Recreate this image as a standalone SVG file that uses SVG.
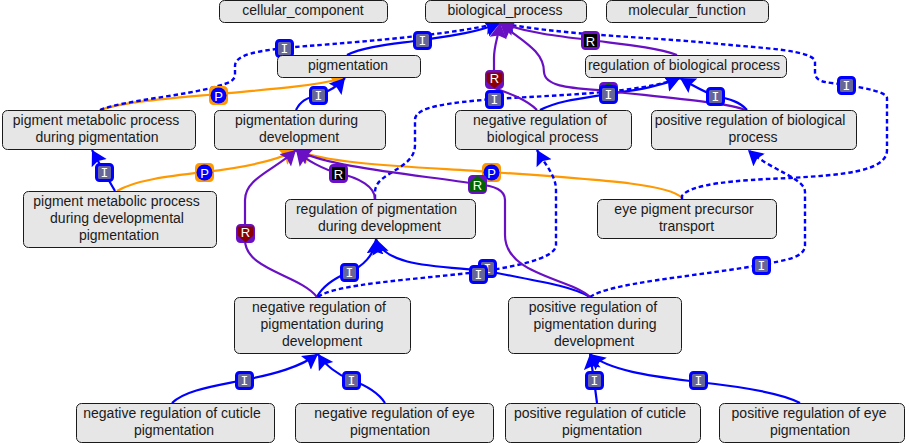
<svg xmlns="http://www.w3.org/2000/svg" width="909" height="443" viewBox="0 0 909 443">
<style>
text{font-family:"Liberation Sans",Arial,sans-serif;font-size:14px;fill:#1a1a1a;text-anchor:middle}
.n rect{fill:#e6e6e6;stroke:#1a1a1a;stroke-width:1}
.e{fill:none;stroke-width:2.2}
.b{stroke:#0000ff}.d{stroke:#0000ff;stroke-dasharray:4.5 3;stroke-width:2.4}.o{stroke:#ff9900}.p{stroke:#6a10c4}
.ab{marker-end:url(#ab)}.ao{marker-end:url(#ao)}.ap{marker-end:url(#ap)}
.bi{fill:#666699;stroke:#0000ff;stroke-width:3}
.bp{fill:#6a10c4;stroke:#6a10c4;stroke-width:3}
.bo{fill:#ff9900;stroke:#ff9900;stroke-width:3}
.l{font-family:"DejaVu Sans Mono","Liberation Mono",monospace;font-size:13px;fill:#fff}
.m{font-size:13px;fill:#fff}
</style>
<defs>
<marker id="ab" markerUnits="userSpaceOnUse" markerWidth="17" markerHeight="18" refX="15" refY="8.500" orient="auto"><path d="M0 0L15 8.500L0 17L2.500 8.500Z" fill="#0000ff"/></marker>
<marker id="ao" markerUnits="userSpaceOnUse" markerWidth="17" markerHeight="18" refX="15" refY="8.500" orient="auto"><path d="M0 0L15 8.500L0 17L2.500 8.500Z" fill="#ff9900"/></marker>
<marker id="ap" markerUnits="userSpaceOnUse" markerWidth="17" markerHeight="18" refX="15" refY="8.500" orient="auto"><path d="M0 0L15 8.500L0 17L2.500 8.500Z" fill="#6a10c4"/></marker>
<g id="I"><rect class="bi" x="-8" y="-8" width="16" height="16" rx="3"/><text class="l" y="4.500">I</text></g>
<g id="P"><rect class="bo" x="-8" y="-8" width="16" height="16" rx="3"/><circle r="8" fill="#0000ff"/><text class="m" y="5">P</text></g>
<g id="Rk"><rect class="bp" x="-8" y="-8" width="16" height="16" rx="3"/><rect x="-6.500" y="-6.500" width="13" height="13" fill="#000"/><text class="m" y="5">R</text></g>
<g id="Rr"><rect class="bp" x="-8" y="-8" width="16" height="16" rx="3"/><path d="M-8 -7H8V2L0 9L-8 2Z" fill="#8b0000"/><text class="m" y="3.500">R</text></g>
<g id="Rg"><rect class="bp" x="-8" y="-8" width="16" height="16" rx="3"/><path d="M0 -9L8 -2V7H-8V-2Z" fill="#006400"/><text class="m" y="5.500">R</text></g>
</defs>
<g id="connectors">
<path class="e o ao" d="M100 110C125 101 185 97 218 94C260 90 310 87 345 78"/>
<path class="e o ao" d="M117 191C135 180 170 176 204 172C240 168 275 162 296 150"/>
<path class="e o ao" d="M682 198C670 185 620 181 491 172C420 167 330 165 296 150"/>
<path class="e b ab" d="M347 55C365 46 395 44 422 40C450 36 475 33 500 23"/>
<path class="e d ab" d="M100 110C125 100 185 96 218 86C228 83 233 82 235 76V66C235 54 260 51 284 48C340 43 440 37 500 23"/>
<path class="e b ab" d="M296 110C302 98 310 98 318 95C328 92 338 86 345 78"/>
<path class="e b ab" d="M115 191L104 172L92 150"/>
<path class="e d ab" d="M375 199V192C375 172 415 170 415 145V120C415 106 450 103 493 99C560 95 640 93 680 78"/>
<path class="e b ab" d="M540 110C560 100 585 98 608 94C635 90 655 88 680 78"/>
<path class="e b ab" d="M747 110C740 102 730 99 715 96C705 92 695 87 680 78"/>
<path class="e d ab" d="M682 199V196C690 184 735 180 790 178C840 175 887 172 887 150V98C887 92 865 88 846 85C830 82 815 84 815 72V62C815 50 760 48 720 44C640 36 570 36 500 23"/>
<path class="e d ab" d="M318 297C335 284 410 280 478 272C505 268 556 260 556 245V190C556 175 545 165 537 150"/>
<path class="e b ab" d="M317 297C323 285 335 278 349 272C362 267 375 255 376 239"/>
<path class="e b ab" d="M590 297C570 285 530 280 487 271C445 266 385 268 376 239"/>
<path class="e d ab" d="M590 297C610 283 690 277 761 265C785 260 805 258 805 245V192C805 178 770 170 748 150"/>
<path class="e b ab" d="M172 403C185 390 215 386 244 380C275 374 300 367 318 354"/>
<path class="e b ab" d="M385 403C378 392 365 385 351 380C338 375 325 365 318 354"/>
<path class="e b ab" d="M597 403L594 380L590 354"/>
<path class="e b ab" d="M800 403C780 392 735 386 698 382C660 377 610 372 590 354"/>
<path class="e p ap" d="M317 297C300 275 245 270 245 240V200C245 178 275 170 296 150"/>
<path class="e p ap" d="M375 199C375 187 360 178 338 173C325 170 305 160 296 150"/>
<path class="e p ap" d="M590 297C570 278 505 275 505 235V200C505 190 495 186 477 184C420 175 330 168 296 150"/>
<path class="e p ap" d="M677 55C655 47 620 44 590 40C555 36 530 33 500 23"/>
<path class="e p ap" d="M537 110C525 98 505 92 494 88V79V58C494 45 498 38 500 23"/>
<path class="e p ap" d="M745 110C730 103 660 97 608 91C575 88 545 88 544 72C544 50 520 40 500 23"/>
</g>
<g id="edge-labels" transform="translate(0.5 0.5)">
<use href="#I" x="284" y="48"/><use href="#I" x="422" y="40"/><use href="#I" x="318" y="95"/><use href="#I" x="104" y="172"/>
<use href="#P" x="218" y="95"/><use href="#P" x="204" y="172"/><use href="#P" x="491" y="172"/>
<use href="#Rk" x="590" y="40"/><use href="#Rk" x="338" y="173"/>
<use href="#Rr" x="494" y="79"/><use href="#Rr" x="245" y="233"/>
<use href="#I" x="494" y="99"/>
<use href="#Rg" x="608" y="91"/><use href="#I" x="608" y="94"/><use href="#I" x="715" y="96"/>
<use href="#I" x="846" y="85"/><use href="#Rg" x="477" y="184"/>
<use href="#I" x="349" y="272"/><use href="#I" x="487" y="268"/><use href="#I" x="478" y="274"/><use href="#I" x="761" y="265"/>
<use href="#I" x="244" y="380"/><use href="#I" x="351" y="380"/><use href="#I" x="594" y="380"/><use href="#I" x="698" y="380"/>
</g>
<g id="cellular_component" class="n"><rect x="219.500" y="0.500" width="168" height="22" rx="5"/><text x="303" y="15">cellular_component</text></g>
<g id="biological_process" class="n"><rect x="425.500" y="0.500" width="161" height="22" rx="5"/><text x="505" y="15">biological_process</text></g>
<g id="molecular_function" class="n"><rect x="606.500" y="0.500" width="162" height="22" rx="5"/><text x="687" y="15">molecular_function</text></g>
<g id="pigmentation" class="n"><rect x="277.500" y="55.500" width="143" height="22" rx="5"/><text x="348" y="70">pigmentation</text></g>
<g id="regulation_of_biological_process" class="n"><rect x="585.500" y="55.500" width="201" height="22" rx="5"/><text x="684" y="70">regulation of biological process</text></g>
<g id="pigment_metabolic_process_during_pigmentation" class="n"><rect x="2.500" y="110.500" width="193" height="39" rx="5"/><text x="96" y="125">pigment metabolic process</text><text x="97" y="142">during pigmentation</text></g>
<g id="pigmentation_during_development" class="n"><rect x="214.500" y="110.500" width="171" height="39" rx="5"/><text x="296.500" y="125">pigmentation during</text><text x="299" y="142">development</text></g>
<g id="negative_regulation_of_biological_process" class="n"><rect x="455.500" y="110.500" width="176" height="39" rx="5"/><text x="540" y="125">negative regulation of</text><text x="542.500" y="142">biological process</text></g>
<g id="positive_regulation_of_biological_process" class="n"><rect x="651.500" y="110.500" width="205" height="39" rx="5"/><text x="750" y="125">positive regulation of biological</text><text x="753" y="142">process</text></g>
<g id="pigment_metabolic_process_during_developmental_pigmentation" class="n"><rect x="23.500" y="191.500" width="193" height="56" rx="5"/><text x="116.500" y="206">pigment metabolic process</text><text x="117" y="223">during developmental</text><text x="119" y="240">pigmentation</text></g>
<g id="regulation_of_pigmentation_during_development" class="n"><rect x="285.500" y="199.500" width="190" height="39" rx="5"/><text x="376.500" y="214">regulation of pigmentation</text><text x="379.500" y="231">during development</text></g>
<g id="eye_pigment_precursor_transport" class="n"><rect x="597.500" y="199.500" width="179" height="39" rx="5"/><text x="684" y="214">eye pigment precursor</text><text x="686.500" y="231">transport</text></g>
<g id="negative_regulation_of_pigmentation_during_development" class="n"><rect x="234.500" y="297.500" width="176" height="56" rx="5"/><text x="319" y="312">negative regulation of</text><text x="322" y="329">pigmentation during</text><text x="322" y="346">development</text></g>
<g id="positive_regulation_of_pigmentation_during_development" class="n"><rect x="508.500" y="297.500" width="173" height="56" rx="5"/><text x="593" y="312">positive regulation of</text><text x="595" y="329">pigmentation during</text><text x="594" y="346">development</text></g>
<g id="negative_regulation_of_cuticle_pigmentation" class="n"><rect x="76.500" y="403.500" width="198" height="39" rx="5"/><text x="172" y="418">negative regulation of cuticle</text><text x="174" y="435">pigmentation</text></g>
<g id="negative_regulation_of_eye_pigmentation" class="n"><rect x="295.500" y="403.500" width="198" height="39" rx="5"/><text x="394.500" y="418">negative regulation of eye</text><text x="390" y="435">pigmentation</text></g>
<g id="positive_regulation_of_cuticle_pigmentation" class="n"><rect x="505.500" y="403.500" width="195" height="39" rx="5"/><text x="600" y="418">positive regulation of cuticle</text><text x="602" y="435">pigmentation</text></g>
<g id="positive_regulation_of_eye_pigmentation" class="n"><rect x="719.500" y="403.500" width="185" height="39" rx="5"/><text x="809" y="418">positive regulation of eye</text><text x="810" y="435">pigmentation</text></g>
</svg>
